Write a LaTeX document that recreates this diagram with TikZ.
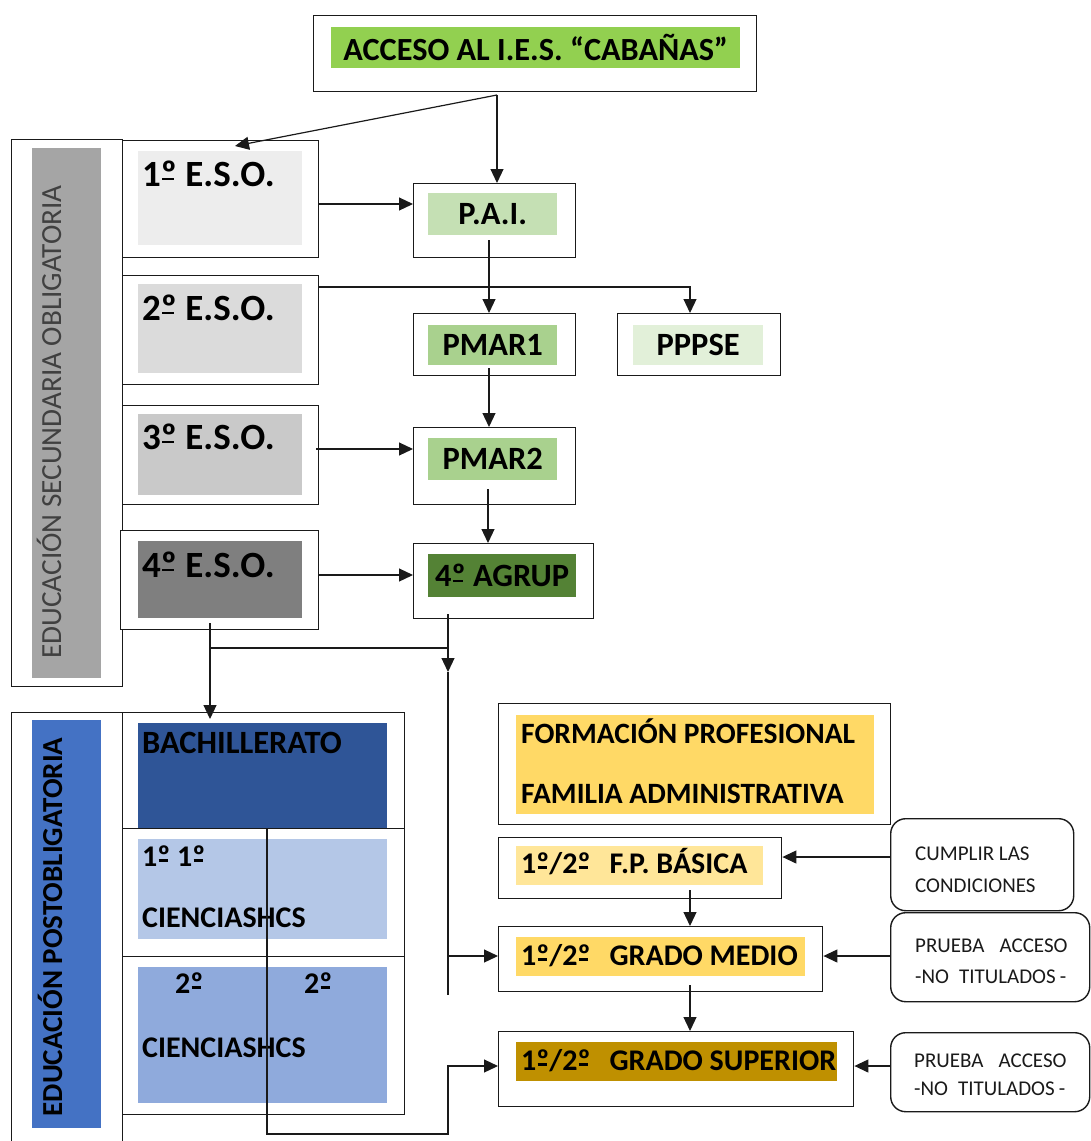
\documentclass[tikz,border=0pt]{standalone}
\usepackage{fontspec}
\setmainfont{Carlito}
\usetikzlibrary{arrows.meta,calc}
\definecolor{cAcc}{HTML}{92D050}
\definecolor{cPai}{HTML}{C5E0B4}
\definecolor{cPm}{HTML}{A9D18E}
\definecolor{cPpp}{HTML}{E2F0D9}
\definecolor{cAgr}{HTML}{548235}
\definecolor{cEa}{HTML}{EDEDED}
\definecolor{cEb}{HTML}{DBDBDB}
\definecolor{cEc}{HTML}{C9C9C9}
\definecolor{cEd}{HTML}{7F7F7F}
\definecolor{cEso}{HTML}{A5A5A5}
\definecolor{cPost}{HTML}{4472C4}
\definecolor{cBach}{HTML}{2F5597}
\definecolor{cBa}{HTML}{B4C7E7}
\definecolor{cBb}{HTML}{8FAADC}
\definecolor{cFP}{HTML}{FFD966}
\definecolor{cFPB}{HTML}{FFE699}
\definecolor{cGS}{HTML}{BF9000}
\definecolor{cTxt}{HTML}{404040}
\definecolor{cLine}{HTML}{1A1A1A}
\newcommand\fsz[1]{\fontsize{#1}{#1}\selectfont}
\newcommand\ordm{\leavevmode\rlap{\hspace{0.04em}\rule[0.15em]{0.31em}{0.07em}}º}
\begin{document}
\begin{tikzpicture}[x=1pt,y=-1pt,
  box/.style={draw=cLine,line width=1.4pt,anchor=north west,inner sep=0pt,fill=white},
  rbox/.style={box,rounded corners=15pt},
  fillbox/.style={draw=none,anchor=north west,inner sep=0pt},
  lbl/.style={anchor=base west,inner sep=0pt},
  arr/.style={draw=cLine,line width=1.2pt,-{Triangle[length=14pt,width=13pt]}},
  ln/.style={draw=cLine,line width=1.2pt}]
\useasboundingbox (0,0) rectangle (1091,1141);

% ---------- top ----------
\node[box,minimum width=443pt,minimum height=76pt] (acceso) at (313,15) {};
\node[fillbox,fill=cAcc,minimum width=409pt,minimum height=41pt,font=\fsz{32.3}\bfseries] (accf) at (331,27) {ACCESO AL I.E.S. “CABAÑAS”};

% ---------- ESO column ----------
\node[box,minimum width=111pt,minimum height=547pt] (eso) at (11,139) {};
\node[fillbox,fill=cEso,minimum width=69pt,minimum height=530pt] (esof) at (32,148) {};
\node[rotate=90,anchor=base,inner sep=0pt,text=cTxt,font=\fsz{29.2}] (esot) at (61,422) {EDUCACIÓN SECUNDARIA OBLIGATORIA};

\node[box,minimum width=196pt,minimum height=117pt] (e1) at (122,140) {};
\node[fillbox,fill=cEa,minimum width=164pt,minimum height=94pt] (e1f) at (138,151) {};
\node[lbl,font=\fsz{37}\bfseries] (e1t) at (142,186) {1\ordm{} E.S.O.};

\node[box,minimum width=196pt,minimum height=109pt] (e2) at (122,275) {};
\node[fillbox,fill=cEb,minimum width=164pt,minimum height=89pt] (e2f) at (138,284) {};
\node[lbl,font=\fsz{37}\bfseries] (e2t) at (142,320) {2\ordm{} E.S.O.};

\node[box,minimum width=196pt,minimum height=99pt] (e3) at (122,405) {};
\node[fillbox,fill=cEc,minimum width=164pt,minimum height=81pt] (e3f) at (138,414) {};
\node[lbl,font=\fsz{37}\bfseries] (e3t) at (142,449) {3\ordm{} E.S.O.};

\node[box,minimum width=198pt,minimum height=99pt] (e4) at (120,530) {};
\node[fillbox,fill=cEd,minimum width=164pt,minimum height=77pt] (e4f) at (138,541) {};
\node[lbl,font=\fsz{37}\bfseries] (e4t) at (142,577) {4\ordm{} E.S.O.};

% ---------- programmes ----------
\node[box,minimum width=162pt,minimum height=74pt] (pai) at (413,183) {};
\node[fillbox,fill=cPai,minimum width=129pt,minimum height=42pt,font=\fsz{32.5}\bfseries] (paif) at (428,193) {P.A.I.};

\node[box,minimum width=162pt,minimum height=62pt] (pmar1) at (413,313) {};
\node[fillbox,fill=cPm,minimum width=129pt,minimum height=40pt,font=\fsz{32.5}\bfseries] (pmar1f) at (428,325) {PMAR1};

\node[box,minimum width=163pt,minimum height=62pt] (pppse) at (617,313) {};
\node[fillbox,fill=cPpp,minimum width=130pt,minimum height=40pt,font=\fsz{32.5}\bfseries] (pppsef) at (633,325) {PPPSE};

\node[box,minimum width=162pt,minimum height=77pt] (pmar2) at (413,427) {};
\node[fillbox,fill=cPm,minimum width=129pt,minimum height=42pt,font=\fsz{32.5}\bfseries] (pmar2f) at (428,438) {PMAR2};

\node[box,minimum width=180pt,minimum height=75pt] (agrup) at (413,543) {};
\node[fillbox,fill=cAgr,minimum width=148pt,minimum height=43pt,font=\fsz{32.5}\bfseries] (agrupf) at (428,554) {4\ordm{} AGRUP};

% ---------- postobligatoria ----------
\node[box,minimum width=111pt,minimum height=440pt] (post) at (11,712) {};
\node[fillbox,fill=cPost,minimum width=69pt,minimum height=408pt] (postf) at (32,720) {};
\node[rotate=90,anchor=base,inner sep=0pt,font=\fsz{29}\bfseries] (postt) at (62,927) {EDUCACIÓN POSTOBLIGATORIA};

\node[box,minimum width=282pt,minimum height=116pt] (bach) at (122,712) {};
\node[box,minimum width=282pt,minimum height=128pt] (bach1) at (122,828) {};
\node[box,minimum width=282pt,minimum height=158pt] (bach2) at (122,956) {};
\node[fillbox,fill=cBach,minimum width=249pt,minimum height=105pt] (bachf) at (138,723) {};
\node[fillbox,fill=cBa,minimum width=249pt,minimum height=100pt] (b1f) at (138,839) {};
\node[fillbox,fill=cBb,minimum width=249pt,minimum height=136pt] (b2f) at (138,967) {};
\node[lbl,font=\fsz{32.5}\bfseries] (bacht) at (142,753) {BACHILLERATO};
\node[lbl,font=\fsz{30}\bfseries] (b1a) at (142,866) {1\ordm{} 1\ordm};
\node[lbl,font=\fsz{30}\bfseries] (b1b) at (142,927) {CIENCIASHCS};
\node[lbl,font=\fsz{30}\bfseries] (b2a) at (175,993) {2\ordm};
\node[lbl,font=\fsz{30}\bfseries] (b2b) at (304,993) {2\ordm};
\node[lbl,font=\fsz{30}\bfseries] (b2c) at (142,1057) {CIENCIASHCS};

% ---------- formación profesional ----------
\node[box,minimum width=392pt,minimum height=121pt] (fp) at (498,703) {};
\node[fillbox,fill=cFP,minimum width=358pt,minimum height=99pt] (fpf) at (516,715) {};
\node[lbl,font=\fsz{29.5}\bfseries] (fpa) at (521,743) {FORMACIÓN PROFESIONAL};
\node[lbl,font=\fsz{29.5}\bfseries] (fpb2) at (521,803) {FAMILIA ADMINISTRATIVA};

\node[box,minimum width=283pt,minimum height=61pt] (fpb) at (498,837) {};
\node[fillbox,fill=cFPB,minimum width=247pt,minimum height=39pt] (fpbf) at (516,846) {};
\node[lbl,font=\fsz{30}\bfseries] (fpbt) at (521,873) {1\ordm/2\ordm\hspace{19pt}F.P. BÁSICA};

\node[box,minimum width=324pt,minimum height=65pt] (gm) at (498,926) {};
\node[fillbox,fill=cFP,minimum width=289pt,minimum height=39pt] (gmf) at (516,937) {};
\node[lbl,font=\fsz{30}\bfseries] (gmt) at (521,965) {1\ordm/2\ordm\hspace{19pt}GRADO MEDIO};

\node[box,minimum width=355pt,minimum height=75pt] (gs) at (498,1031) {};
\node[fillbox,fill=cGS,minimum width=321pt,minimum height=39pt] (gsf) at (516,1042) {};
\node[lbl,font=\fsz{30}\bfseries] (gst) at (521,1070) {1\ordm/2\ordm\hspace{19pt}GRADO SUPERIOR};

\node[rbox,minimum width=183pt,minimum height=92pt] (cond) at (890,818) {};
\node[lbl,font=\fsz{21},text=cLine] (conda) at (915,860) {CUMPLIR LAS};
\node[lbl,font=\fsz{21},text=cLine] (condb) at (915,892) {CONDICIONES};

\node[rbox,minimum width=199pt,minimum height=89pt] (pr1) at (890,912) {};
\node[lbl,font=\fsz{21},text=cLine] (pr1a) at (915,952) {PRUEBA\hspace{15pt}ACCESO};
\node[lbl,font=\fsz{21},text=cLine] (pr1b) at (915,983) {-NO\hspace{10pt}TITULADOS\hspace{4pt}-};

\node[rbox,minimum width=199pt,minimum height=79pt] (pr2) at (890,1032) {};
\node[lbl,font=\fsz{21},text=cLine] (pr2a) at (914,1067) {PRUEBA\hspace{15pt}ACCESO};
\node[lbl,font=\fsz{21},text=cLine] (pr2b) at (914,1095) {-NO\hspace{10pt}TITULADOS\hspace{4pt}-};

% ---------- connectors ----------
\coordinate (a1) at (497,95);
\coordinate (e1in) at (235,146);
\draw[arr] (a1) -- (a1 |- pai.north);
\draw[arr] (a1) -- (e1in);

\coordinate (p1) at (318,204);
\draw[arr] (p1) -- (p1 -| pai.west);
\coordinate (p2) at (489,240);
\draw[arr] (p2) -- (p2 |- pmar1.north);
\coordinate (p3) at (318,287);
\coordinate (p3b) at (690,287);
\draw[arr] (p3) -- (p3b) -- (p3b |- pppse.north);
\coordinate (p4) at (489,368);
\draw[arr] (p4) -- (p4 |- pmar2.north);
\coordinate (p5) at (316,449);
\draw[arr] (p5) -- (p5 -| pmar2.west);
\coordinate (p6) at (488,489);
\draw[arr] (p6) -- (p6 |- agrup.north);
\coordinate (p7) at (318,575);
\draw[arr] (p7) -- (p7 -| agrup.west);

\coordinate (p8) at (210,623);
\coordinate (p8b) at (210,648);
\coordinate (p8c) at (448,648);
\coordinate (p8d) at (210,719);
\draw[arr] (p8) -- (p8d);
\draw[ln] (p8b) -- (p8c);

\coordinate (p9) at (448,614);
\coordinate (p9b) at (448,672);
\coordinate (p9c) at (448,995);
\draw[arr] (p9) -- (p9b);
\draw[ln] (p9b) -- (p9c);
\coordinate (p10) at (448,956);
\draw[arr] (p10) -- (p10 -| gm.west);

\coordinate (q1) at (267,828);
\coordinate (q2) at (267,1134);
\coordinate (q3) at (448,1134);
\coordinate (q4) at (448,1066);
\draw[arr] (q1) -- (q2) -- (q3) -- (q4) -- (q4 -| gs.west);

\coordinate (f1) at (690,890);
\draw[arr] (f1) -- (f1 |- gm.north);
\coordinate (f2) at (690,985);
\draw[arr] (f2) -- (f2 |- gs.north);

\coordinate (c1) at (890,857);
\draw[arr] (c1) -- (c1 -| fpb.east);
\coordinate (c2) at (890,956);
\draw[arr] (c2) -- (c2 -| gm.east);
\coordinate (c3) at (890,1066);
\draw[arr] (c3) -- (c3 -| gs.east);
\end{tikzpicture}
\end{document}
